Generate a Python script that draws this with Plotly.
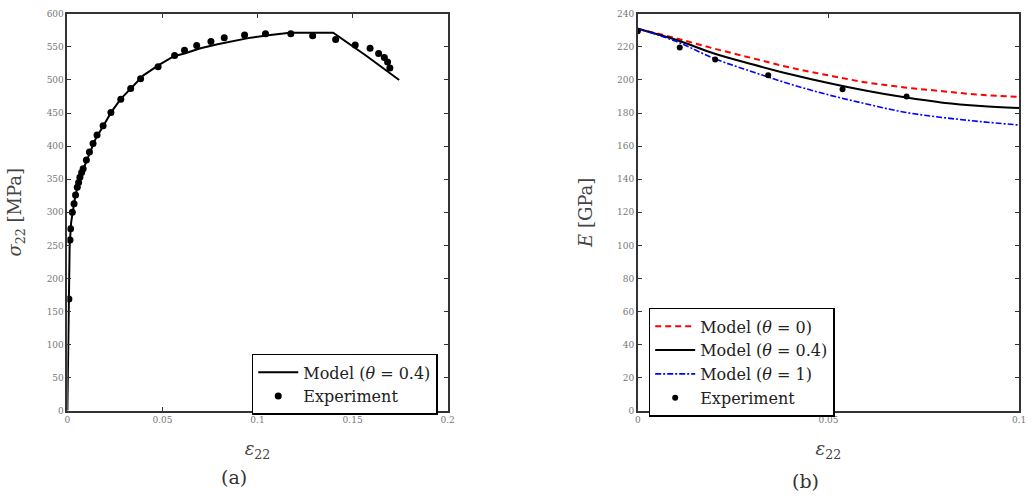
import plotly.graph_objects as go

W, H = 1033, 503

# ---- Panel (a): stress-strain ----
model_a_strain = [0, 0.0008, 0.0012, 0.002, 0.003, 0.004, 0.005, 0.0065, 0.008, 0.01, 0.0125,
                  0.015, 0.0188, 0.023, 0.028, 0.0335, 0.04, 0.0478, 0.056, 0.0616, 0.07, 0.079,
                  0.088, 0.0964, 0.1068, 0.117, 0.1398, 0.157, 0.1745]
model_a_stress = [0, 168, 250, 285, 305, 322, 335, 350, 362, 377, 395,
                  412, 430, 451, 471, 488, 507, 522, 536, 540, 548, 554,
                  559, 564, 568, 571.5, 571.5, 537, 500]

exp_a_strain = [0.0008, 0.0014, 0.0017, 0.0026, 0.0035, 0.0043, 0.0052, 0.0059, 0.0066, 0.0075,
                0.0083, 0.0100, 0.0116, 0.0135, 0.0156, 0.0188, 0.0229, 0.0281, 0.0333, 0.0385,
                0.0477, 0.0564, 0.0616, 0.0680, 0.0755, 0.0825, 0.0932, 0.1042, 0.1175, 0.1290,
                0.1411, 0.1514, 0.1592, 0.1637, 0.1667, 0.1684, 0.1696]
exp_a_stress = [169, 258, 275, 300, 313, 326, 338, 345, 353, 360,
                366, 379, 391, 404, 417, 431, 451, 471, 487, 502,
                520, 537, 545, 552, 558, 564, 568, 570, 570, 567,
                561, 553, 548, 540, 534, 527, 518]

# ---- Panel (b): modulus vs strain ----
model_b_strain = [0, 0.01, 0.02, 0.03, 0.04, 0.05, 0.06, 0.07, 0.08, 0.09, 0.1]
model_b_theta0 = [231, 225.2, 219, 213.2, 207.5, 202.8, 198.5, 195.5, 193.2, 191, 189.8]
model_b_theta04 = [231, 224.3, 216, 209.5, 203.5, 198.2, 193.5, 189.5, 186.3, 184.3, 183.1]
model_b_theta1 = [231, 223.4, 213, 205, 197.5, 191, 185.5, 180.5, 177.3, 174.8, 172.8]

exp_b_strain = [0.0, 0.011, 0.0203, 0.0342, 0.0537, 0.0705]
exp_b_E = [229.5, 219.7, 212.4, 202.9, 194.4, 190.0]

FONT = "'DejaVu Serif', 'Liberation Serif', serif"
AX_COLOR = "#333333"

fig = go.Figure()

fig.add_trace(go.Scatter(x=model_a_strain, y=model_a_stress, mode="lines",
                         line=dict(color="black", width=2),
                         name="Model (<i>θ</i> = 0.4)", legend="legend",
                         xaxis="x", yaxis="y"))
fig.add_trace(go.Scatter(x=exp_a_strain, y=exp_a_stress, mode="markers",
                         marker=dict(color="black", size=7),
                         name="Experiment", legend="legend",
                         xaxis="x", yaxis="y"))

fig.add_trace(go.Scatter(x=model_b_strain, y=model_b_theta0, mode="lines", line_shape="spline",
                         line=dict(color="red", width=2, dash="6px,4px"),
                         name="Model (<i>θ</i> = 0)", legend="legend2",
                         xaxis="x2", yaxis="y2"))
fig.add_trace(go.Scatter(x=model_b_strain, y=model_b_theta04, mode="lines", line_shape="spline",
                         line=dict(color="black", width=2),
                         name="Model (<i>θ</i> = 0.4)", legend="legend2",
                         xaxis="x2", yaxis="y2"))
fig.add_trace(go.Scatter(x=model_b_strain, y=model_b_theta1, mode="lines", line_shape="spline",
                         line=dict(color="blue", width=1.6, dash="6px,2px,2px,2px"),
                         name="Model (<i>θ</i> = 1)", legend="legend2",
                         xaxis="x2", yaxis="y2"))
fig.add_trace(go.Scatter(x=exp_b_strain, y=exp_b_E, mode="markers",
                         marker=dict(color="black", size=6),
                         name="Experiment", legend="legend2",
                         xaxis="x2", yaxis="y2"))

def xd(a, b):
    return [a / W, b / W]

def yd(top, bottom):
    return [1 - bottom / H, 1 - top / H]

axis_common = dict(showline=True, linecolor=AX_COLOR, linewidth=1.5, mirror="ticks",
                   ticks="inside", ticklen=4, tickwidth=1.2, tickcolor=AX_COLOR,
                   showgrid=False, zeroline=False,
                   tickfont=dict(family=FONT, size=9, color="#777777"))

fig.update_layout(
    width=W, height=H,
    margin=dict(l=0, r=0, t=0, b=0),
    paper_bgcolor="white", plot_bgcolor="white",
    font=dict(family=FONT, color="black"),
    xaxis=dict(domain=xd(65, 449), range=[0, 0.2], tickvals=[0, 0.05, 0.1, 0.15, 0.2],
               ticktext=["0", "0.05", "0.1", "0.15", "0.2"], anchor="y",
               title=dict(text="<i>ε</i><sub>22</sub>", font=dict(size=18, color="#444444"), standoff=18),
               **axis_common),
    yaxis=dict(domain=yd(9, 414), range=[0, 600], tickvals=list(range(0, 601, 50)), anchor="x",
               title=dict(text="<i>σ</i><sub>22</sub> [MPa]", font=dict(size=18, color="#444444"), standoff=20),
               **axis_common),
    xaxis2=dict(domain=xd(641, 1026), range=[0, 0.1], tickvals=[0, 0.05, 0.1],
                ticktext=["0", "0.05", "0.1"], anchor="y2",
                title=dict(text="<i>ε</i><sub>22</sub>", font=dict(size=18, color="#444444"), standoff=18),
                **axis_common),
    yaxis2=dict(domain=yd(9, 414), range=[0, 240], tickvals=list(range(0, 241, 20)), anchor="x2",
                title=dict(text="<i>E</i> [GPa]", font=dict(size=18, color="#444444"), standoff=20),
                **axis_common),
    legend=dict(x=439 / W, y=1 - 356 / H, xanchor="right", yanchor="top",
                bgcolor="white", bordercolor="black", borderwidth=1.5,
                font=dict(family=FONT, size=16, color="#222222"),
                tracegroupgap=0, itemwidth=40),
    legend2=dict(x=652 / W, y=1 - 309 / H, xanchor="left", yanchor="top",
                 bgcolor="white", bordercolor="black", borderwidth=1.5,
                 font=dict(family=FONT, size=16, color="#222222"),
                 tracegroupgap=0, itemwidth=40),
    annotations=[
        dict(text="(a)", x=233 / W, y=1 - 482 / H, xref="paper", yref="paper",
             xanchor="center", yanchor="middle",
             showarrow=False, font=dict(family=FONT, size=19, color="#333333")),
        dict(text="(b)", x=810 / W, y=1 - 486 / H, xref="paper", yref="paper",
             xanchor="center", yanchor="middle",
             showarrow=False, font=dict(family=FONT, size=19, color="#333333")),
    ],
    showlegend=True,
)

fig.write_html("out.html")
